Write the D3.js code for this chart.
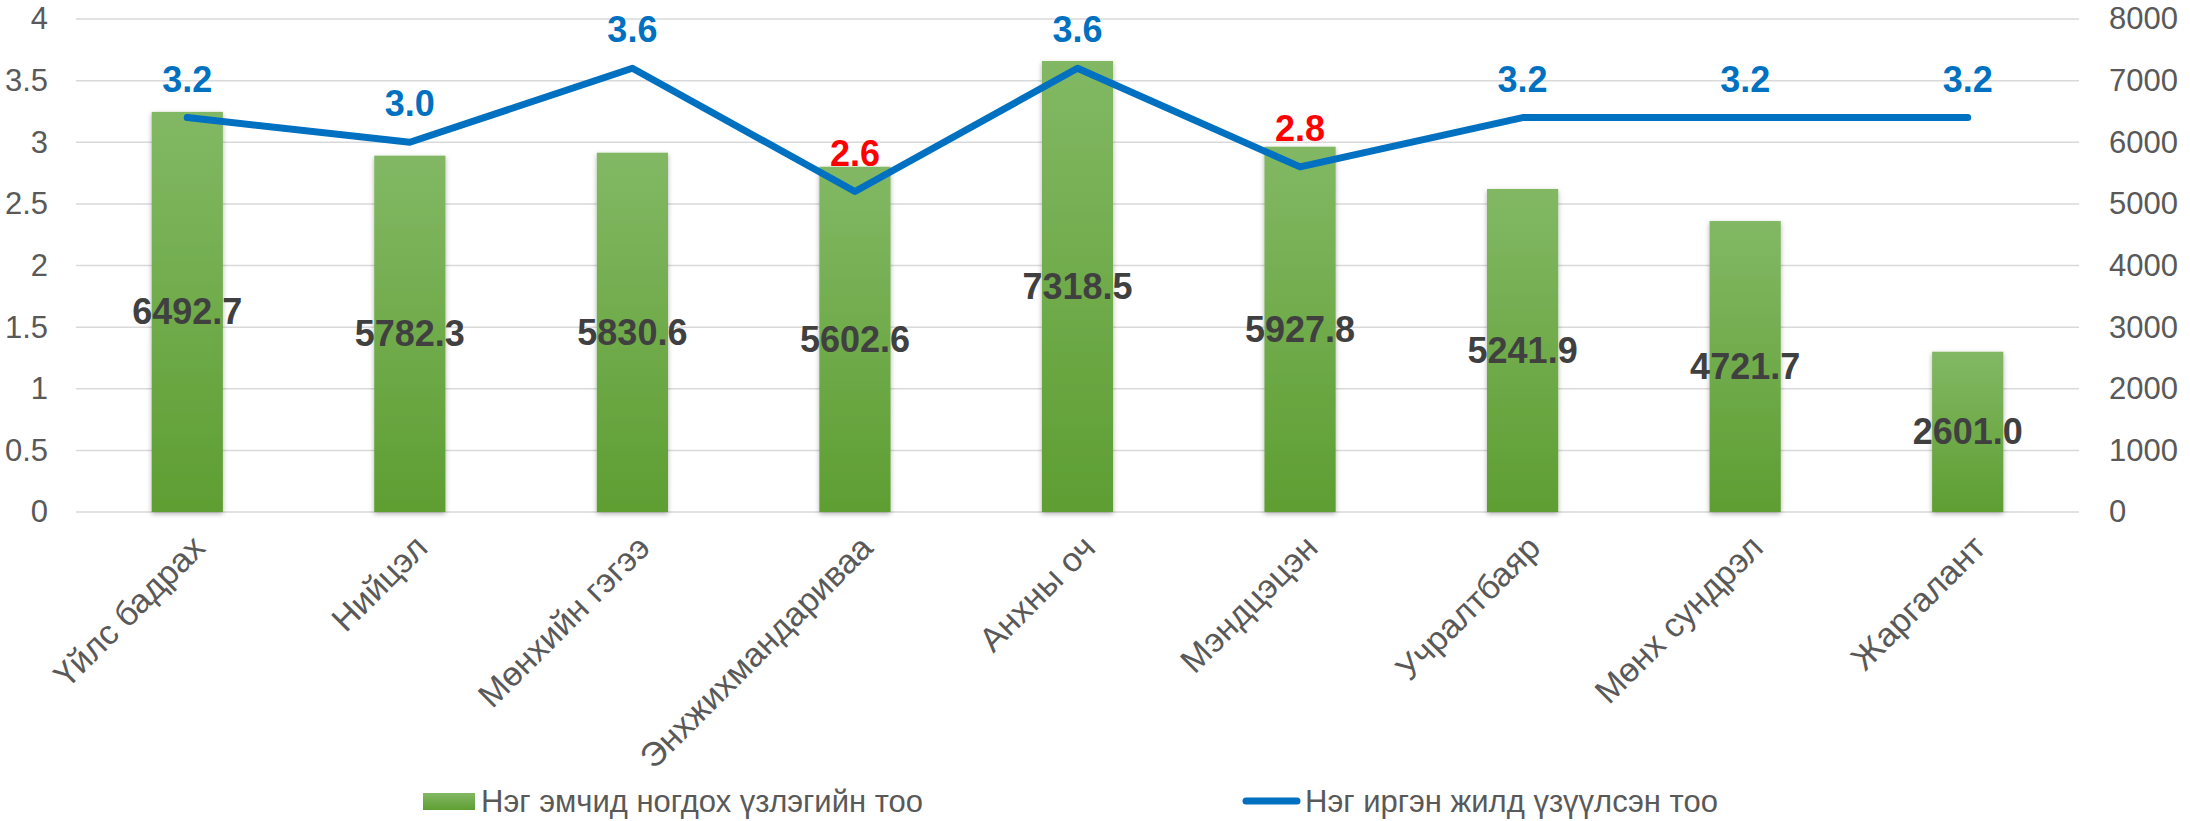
<!DOCTYPE html>
<html lang="mn">
<head>
    <meta charset="UTF-8">
    <title>Нэг эмчид ногдох үзлэгийн тоо</title>
    <script src="https://d3js.org/d3.v7.min.js"></script>
    <style>
        body { margin: 0; background: #fff; }
        svg { display: block; font-family: "Liberation Sans", Arial, sans-serif; }
        .tick-label { fill: #595959; font-size: 31px; }
        .legend-label { fill: #595959; font-size: 31px; }
        .cat-label { fill: #595959; font-size: 34px; }
        .bar-label { fill: #404040; font-size: 36px; font-weight: bold; }
        .line-label { font-size: 36px; font-weight: bold; }
    </style>
</head>
<body>
    <div id="chart"></div>
    <script>
        // Data
        const categories = ["Үйлс бадрах", "Нийцэл", "Мөнхийн гэгээ", "Энхжихмандариваа", "Анхны оч",
                            "Мэндцэцэн", "Учралтбаяр", "Мөнх сундрэл", "Жаргалант"];
        const barValues = [6492.7, 5782.3, 5830.6, 5602.6, 7318.5, 5927.8, 5241.9, 4721.7, 2601.0];
        const lineValues = [3.2, 3.0, 3.6, 2.6, 3.6, 2.8, 3.2, 3.2, 3.2];
        const leftTicks = [0, 0.5, 1, 1.5, 2, 2.5, 3, 3.5, 4];
        const rightTicks = [0, 1000, 2000, 3000, 4000, 5000, 6000, 7000, 8000];
        const seriesNames = ["Нэг эмчид ногдох үзлэгийн тоо", "Нэг иргэн жилд үзүүлсэн тоо"];

        const width = 2190;
        const height = 821;
        const margin = { top: 19, right: 111, bottom: 309, left: 76 };
        const plotW = width - margin.left - margin.right;
        const plotH = height - margin.top - margin.bottom;

        const lineColor = "#0070C0";
        const catFont = 34;

        const svg = d3.select("#chart").append("svg")
            .attr("width", width)
            .attr("height", height);

        // gradient + shadow for bars
        const defs = svg.append("defs");
        const grad = defs.append("linearGradient")
            .attr("id", "barGrad")
            .attr("x1", 0).attr("y1", 0).attr("x2", 0).attr("y2", 1);
        grad.append("stop").attr("offset", "0%").attr("stop-color", "#82B864");
        grad.append("stop").attr("offset", "100%").attr("stop-color", "#5E9E32");

        const shadow = defs.append("filter")
            .attr("id", "barShadow")
            .attr("x", "-20%").attr("y", "-5%").attr("width", "140%").attr("height", "110%");
        shadow.append("feDropShadow")
            .attr("dx", 0).attr("dy", 2)
            .attr("stdDeviation", 2.5)
            .attr("flood-color", "#000")
            .attr("flood-opacity", 0.3);

        const g = svg.append("g")
            .attr("transform", `translate(${margin.left},${margin.top})`);

        // scales
        const x = d3.scaleBand()
            .domain(categories)
            .range([0, plotW])
            .paddingInner(0.68)
            .paddingOuter(0.34);

        const yLeft = d3.scaleLinear().domain([0, 4]).range([plotH, 0]);
        const yRight = d3.scaleLinear().domain([0, 8000]).range([plotH, 0]);

        // gridlines
        g.append("g")
            .selectAll("line")
            .data(leftTicks)
            .join("line")
            .attr("x1", 0)
            .attr("x2", plotW)
            .attr("y1", d => yLeft(d))
            .attr("y2", d => yLeft(d))
            .attr("stroke", "#D9D9D9")
            .attr("stroke-width", 1.5);

        // left axis
        const leftAxis = g.append("g")
            .attr("transform", "translate(-28,0)")
            .call(d3.axisLeft(yLeft).tickValues(leftTicks).tickSize(0).tickPadding(0).tickFormat(d3.format("")));
        leftAxis.select(".domain").remove();
        leftAxis.selectAll("text")
            .attr("class", "tick-label")
            .attr("font-family", null)
            .attr("font-size", null);

        // right axis (no thousands separator)
        const rightAxis = g.append("g")
            .attr("transform", `translate(${plotW + 30},0)`)
            .call(d3.axisRight(yRight).tickValues(rightTicks).tickSize(0).tickPadding(0).tickFormat(d3.format("d")));
        rightAxis.select(".domain").remove();
        rightAxis.selectAll("text")
            .attr("class", "tick-label")
            .attr("font-family", null)
            .attr("font-size", null);

        // bars
        const barData = categories.map((c, i) => ({ cat: c, value: barValues[i] }));
        g.append("g")
            .selectAll("rect")
            .data(barData)
            .join("rect")
            .attr("x", d => x(d.cat))
            .attr("y", d => yRight(d.value))
            .attr("width", x.bandwidth())
            .attr("height", d => plotH - yRight(d.value))
            .attr("fill", "url(#barGrad)")
            .attr("filter", "url(#barShadow)");

        // x labels, rotated so the top-right corner sits under the category
        const off = catFont * 0.64;
        g.append("g")
            .selectAll("text")
            .data(categories)
            .join("text")
            .attr("class", "cat-label")
            .attr("text-anchor", "end")
            .attr("transform", d => `translate(${x(d) + x.bandwidth() / 2 + off - 2},${plotH + 16 + off}) rotate(-45)`)
            .text(d => d);

        // line
        const lineData = categories.map((c, i) => ({ cat: c, value: lineValues[i] }));
        const line = d3.line()
            .x(d => x(d.cat) + x.bandwidth() / 2)
            .y(d => yLeft(d.value));

        g.append("path")
            .datum(lineData)
            .attr("d", line)
            .attr("fill", "none")
            .attr("stroke", lineColor)
            .attr("stroke-width", 7)
            .attr("stroke-linecap", "round")
            .attr("stroke-linejoin", "round");

        // bar value labels (centered in bar)
        g.append("g")
            .selectAll("text")
            .data(barData)
            .join("text")
            .attr("class", "bar-label")
            .attr("text-anchor", "middle")
            .attr("dominant-baseline", "central")
            .attr("x", d => x(d.cat) + x.bandwidth() / 2)
            .attr("y", d => (yRight(d.value) + plotH) / 2)
            .text(d => d.value.toFixed(1));

        // line value labels; values under 3 are red
        g.append("g")
            .selectAll("text")
            .data(lineData)
            .join("text")
            .attr("class", "line-label")
            .attr("text-anchor", "middle")
            .attr("x", d => x(d.cat) + x.bandwidth() / 2)
            .attr("y", d => yLeft(d.value) - 26)
            .attr("fill", d => d.value < 3 ? "#FF0000" : lineColor)
            .text(d => d.value.toFixed(1));

        // legend
        const legend = svg.append("g").attr("transform", "translate(0,802)");
        legend.append("rect")
            .attr("x", 423).attr("y", -9)
            .attr("width", 52).attr("height", 17)
            .attr("fill", "url(#barGrad)");
        legend.append("text")
            .attr("class", "legend-label")
            .attr("x", 481).attr("y", 10)
            .text(seriesNames[0]);
        legend.append("line")
            .attr("x1", 1246).attr("x2", 1297)
            .attr("y1", -1).attr("y2", -1)
            .attr("stroke", lineColor)
            .attr("stroke-width", 7)
            .attr("stroke-linecap", "round");
        legend.append("text")
            .attr("class", "legend-label")
            .attr("x", 1305).attr("y", 10)
            .text(seriesNames[1]);
    </script>
</body>
</html>
